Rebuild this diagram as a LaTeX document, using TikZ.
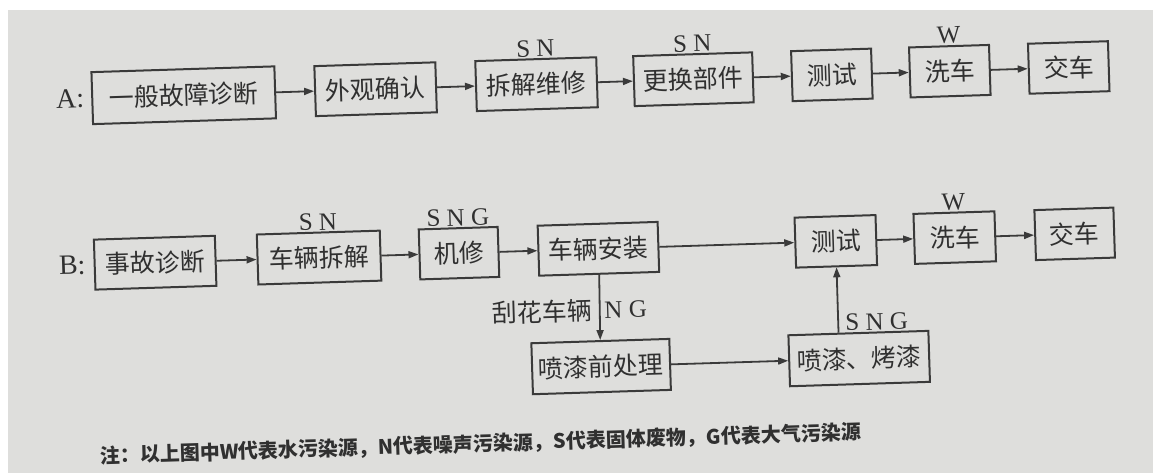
\documentclass[tikz,border=0pt]{standalone}
\usepackage{fontspec}
\setmainfont{Liberation Serif}
\newfontfamily\cjk{Noto Sans CJK SC}
\usetikzlibrary{arrows.meta}
\definecolor{linec}{HTML}{3A3A3A}
\definecolor{txtc}{HTML}{303030}
\definecolor{paper}{HTML}{DEDEDC}
\begin{document}
\begin{tikzpicture}[x=1pt,y=-1pt,
  box/.style={draw=linec, line width=2pt, inner sep=0pt, minimum height=50pt,
    font=\cjk\fontsize{25}{25}\selectfont, text=txtc},
  lab/.style={font=\fontsize{25}{25}\selectfont, text=txtc, inner sep=1pt},
  clab/.style={font=\cjk\fontsize{25}{25}\selectfont, text=txtc, inner sep=1pt},
  arr/.style={draw=linec, line width=1.8pt, -{Triangle[length=10pt,width=7pt]}}]
\fill[white] (0,0) rectangle (1153,473);
\fill[paper] (8,10) rectangle (1153,473);
\begin{scope}[rotate around={1.8:(576,236)}, transform shape]
% Row A
\node[box, minimum width=183pt, minimum height=52pt] (a1) at (188.3,83) {一般故障诊断};
\node[box, minimum width=121pt] (a2) at (380.3,83) {外观确认};
\node[box, minimum width=121pt] (a3) at (541.3,83) {拆解维修};
\node[box, minimum width=119pt] (a4) at (698.3,83) {更换部件};
\node[box, minimum width=80pt] (a5) at (836.8,83) {测试};
\node[box, minimum width=80pt] (a6) at (954.8,83) {洗车};
\node[box, minimum width=80pt] (a7) at (1073.8,83) {交车};
\node[lab, font=\fontsize{28}{28}\selectfont, anchor=east] (la) at ([xshift=-6pt]a1.west) {A:};
\node[lab, anchor=south] (la3) at (a3.north) {S N};
\node[lab, anchor=south] (la4) at (a4.north) {S N};
\node[lab, anchor=south] (la6) at (a6.north) {W};
\draw[arr] (a1) -- (a2);
\draw[arr] (a2) -- (a3);
\draw[arr] (a3) -- (a4);
\draw[arr] (a4) -- (a5);
\draw[arr] (a5) -- (a6);
\draw[arr] (a6) -- (a7);
% Row B
\node[box, minimum width=121pt] (b1) at (154.5,249.5) {事故诊断};
\node[box, minimum width=123pt] (b2) at (318.5,249.5) {车辆拆解};
\node[box, minimum width=79pt] (b3) at (458.5,249.5) {机修};
\node[box, minimum width=120pt] (b4) at (598,249.5) {车辆安装};
\node[box, minimum width=81pt] (b5) at (835.5,249.5) {测试};
\node[box, minimum width=81pt] (b6) at (954.5,249.5) {洗车};
\node[box, minimum width=79pt] (b7) at (1074.5,249.5) {交车};
\node[box, minimum width=138pt, minimum height=51pt] (b8) at (597,367.3) {喷漆前处理};
\node[box, minimum width=140pt, minimum height=51pt] (b9) at (855.2,367.4) {喷漆、烤漆};
\node[lab, font=\fontsize{28}{28}\selectfont, anchor=east] (lb) at ([xshift=-7pt]b1.west) {B:};
\node[lab, anchor=south] (lb2) at (b2.north) {S N};
\node[lab, anchor=south] (lb3) at (b3.north) {S N G};
\node[lab, anchor=south] (lb6) at (b6.north) {W};
\draw[arr] (b1) -- (b2);
\draw[arr] (b2) -- (b3);
\draw[arr] (b3) -- (b4);
\draw[arr] (b4) -- (b5);
\draw[arr] (b5) -- (b6);
\draw[arr] (b6) -- (b7);
\draw[arr] (b4.south) -- (b8.north);
\draw[arr] (b8) -- (b9);
\coordinate (up) at (b5.south |- b9.north);
\draw[arr] (up) -- (b5.south);
\node[clab, anchor=east] (scr) at ([xshift=-6pt,yshift=30pt]b8.north) {刮花车辆};
\node[lab, anchor=west] (ng) at ([xshift=4pt,yshift=30pt]b8.north) {N G};
\node[lab, anchor=south west] (sng) at ([xshift=6pt]up) {S N G};
% note
\node[font=\cjk\bfseries\fontsize{20}{20}\selectfont, text=txtc, anchor=west, inner sep=0pt] (note) at (93,441)
  {注：以上图中W代表水污染源，N代表噪声污染源，S代表固体废物，G代表大气污染源};
\end{scope}
\useasboundingbox (0,0) rectangle (1153,473);
\end{tikzpicture}
\end{document}
